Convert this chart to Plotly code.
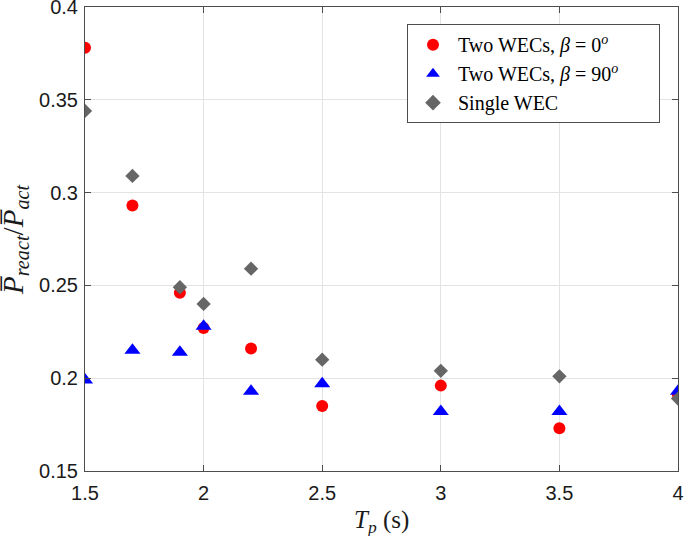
import plotly.graph_objects as go

tp = [1.5, 1.7, 1.9, 2.0, 2.2, 2.5, 3.0, 3.5, 4.0]
two_wec_0 = [0.378, 0.293, 0.246, 0.227, 0.216, 0.185, 0.196, 0.173, 0.191]
two_wec_90 = [0.199, 0.215, 0.214, 0.228, 0.193, 0.197, 0.182, 0.182, 0.193]
single_wec = [0.344, 0.309, 0.249, 0.240, 0.259, 0.210, 0.204, 0.201, 0.189]

x_ticks = [1.5, 2, 2.5, 3, 3.5, 4]
y_ticks = [0.15, 0.2, 0.25, 0.3, 0.35, 0.4]

serif = "Liberation Serif, DejaVu Serif, serif"
sans = "Liberation Sans, Arial, sans-serif"
axc = "#4d4d4d"
nb = "&nbsp;"

fig = go.Figure()
fig.add_trace(go.Scatter(x=tp, y=two_wec_0, mode="markers",
                         name=f"Two WECs, <i>β</i>{nb}={nb}0<sup><i>o</i></sup>",
                         marker=dict(symbol="circle", size=12, color="#ff0000", line=dict(width=0))))
fig.add_trace(go.Scatter(x=tp, y=two_wec_90, mode="markers",
                         name=f"Two WECs, <i>β</i>{nb}={nb}90<sup><i>o</i></sup>{nb*7}",
                         marker=dict(symbol="triangle-up", size=14, color="#0000ff", line=dict(width=0))))
fig.add_trace(go.Scatter(x=tp, y=single_wec, mode="markers",
                         name="Single WEC",
                         marker=dict(symbol="diamond", size=11, color="#666666", line=dict(width=0))))

axis_common = dict(showline=True, linecolor=axc, linewidth=1, mirror="ticks",
                   ticks="inside", ticklen=6, tickcolor=axc, automargin=False,
                   ticklabeloverflow="allow",
                   showgrid=True, gridcolor="#e3e3e3", gridwidth=1, zeroline=False,
                   tickfont=dict(family=sans, size=20, color="#1a1a1a"))

fig.update_layout(
    width=685, height=536,
    margin=dict(l=85, r=7, t=7, b=65),
    paper_bgcolor="white", plot_bgcolor="white",
    xaxis=dict(range=[1.5 - 1e-6, 4 + 1e-6], tickvals=x_ticks, ticktext=[f"{v:g}" for v in x_ticks],
               ticklabelstandoff=4, **axis_common),
    yaxis=dict(range=[0.15 - 1e-7, 0.4 + 1e-7], tickvals=y_ticks, ticktext=[f"{v:g}" for v in y_ticks],
               ticklabelstandoff=2, **axis_common),
    legend=dict(x=0.543, y=0.963, xanchor="left", yanchor="top",
                bgcolor="white", bordercolor=axc, borderwidth=1,
                font=dict(family=serif, size=20, color="black"),
                itemsizing="constant", itemwidth=40, tracegroupgap=0),
    showlegend=True,
    annotations=[
        dict(text=f"<i>T<sub>p</sub></i>{nb}(s)", x=0.5, y=-0.108, xref="paper", yref="paper",
             xanchor="center", yanchor="middle", showarrow=False,
             font=dict(family=serif, size=25, color="#1a1a1a")),
        dict(text="<i>P̅</i><sub><i>react</i></sub>/<i>P̅</i><sub><i>act</i></sub>",
             x=-0.118, y=0.5, xref="paper", yref="paper", textangle=-90,
             xanchor="center", yanchor="middle", showarrow=False,
             font=dict(family=serif, size=29, color="#1a1a1a")),
    ],
)

fig.write_html("out.html", config={"displayModeBar": False},
               post_script="document.body.style.margin='0';document.body.style.overflow='hidden';")
